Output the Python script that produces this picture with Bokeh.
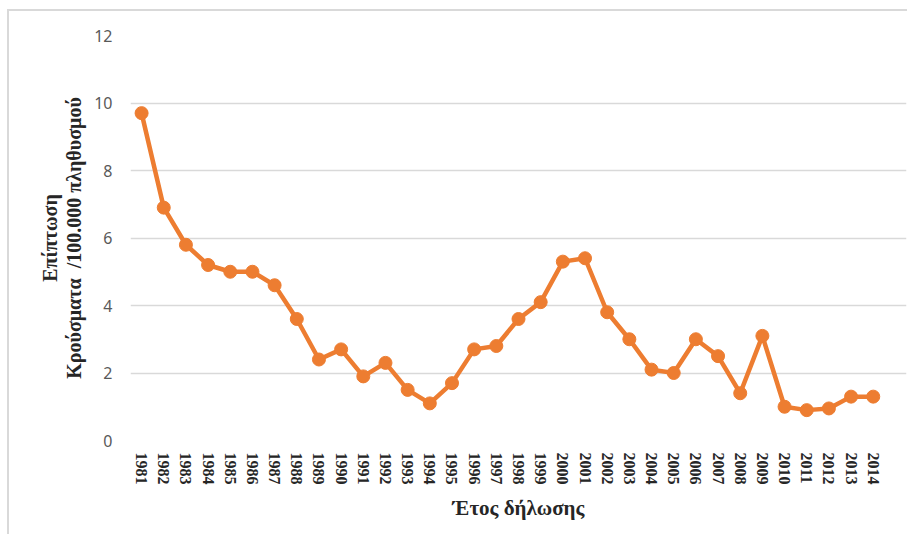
from bokeh.plotting import figure
from bokeh.models import Range1d, FixedTicker
from bokeh.embed import file_html
from bokeh.resources import INLINE

years = list(range(1981, 2015))
incidence = [9.7, 6.9, 5.8, 5.2, 5.0, 5.0, 4.6, 3.6, 2.4, 2.7, 1.9, 2.3, 1.5, 1.1,
             1.7, 2.7, 2.8, 3.6, 4.1, 5.3, 5.4, 3.8, 3.0, 2.1, 2.0, 3.0, 2.5, 1.4,
             3.1, 1.0, 0.9, 0.95, 1.3, 1.3]
y_ticks = [0, 2, 4, 6, 8, 10, 12]

p = figure(width=900, height=525, output_backend="svg", toolbar_location=None,
           x_range=Range1d(1980.5, 2015.5), y_range=Range1d(0, 12),
           min_border_left=121, min_border_right=3, min_border_top=24,
           min_border_bottom=96)
p.styles = {"border-left": "2px solid #d9d9d9", "border-top": "2px solid #d9d9d9",
            "margin-left": "7px", "margin-top": "9px"}
p.outline_line_color = None

p.line(years, incidence, line_color="#ED7D31", line_width=4.5)
p.scatter(years, incidence, size=13, fill_color="#ED7D31", line_color="#ED7D31")

p.xgrid.grid_line_color = None
p.ygrid.grid_line_color = "#d9d9d9"
p.ygrid.grid_line_width = 1.5
p.yaxis.ticker = FixedTicker(ticks=y_ticks)
p.xaxis.ticker = FixedTicker(ticks=years)

for ax in (p.xaxis, p.yaxis):
    ax.axis_line_color = None
    ax.major_tick_line_color = None
    ax.minor_tick_line_color = None
    ax.major_tick_out = 0
    ax.major_tick_in = 0

p.yaxis.major_label_text_font = "Noto Sans"
p.yaxis.major_label_text_font_size = "16px"
p.yaxis.major_label_text_color = "#595959"
p.yaxis.major_label_standoff = 18

p.xaxis.major_label_orientation = "vertical"
p.xaxis.major_label_text_font = "Liberation Serif"
p.xaxis.major_label_text_font_style = "bold"
p.xaxis.major_label_text_font_size = "16px"
p.xaxis.major_label_text_color = "#262626"
p.xaxis.major_label_standoff = 12

p.yaxis.axis_label = "Επίπτωση\nΚρούσματα\u00a0\u00a0/100.000 πληθυσμού"
p.yaxis.axis_label_text_font = "Liberation Serif"
p.yaxis.axis_label_text_font_style = "bold"
p.yaxis.axis_label_text_font_size = "20px"
p.yaxis.axis_label_text_color = "#262626"
p.yaxis.axis_label_text_line_height = 1.1
p.yaxis.axis_label_standoff = 6

p.xaxis.axis_label = "Έτος δήλωσης"
p.xaxis.axis_label_text_font = "Liberation Serif"
p.xaxis.axis_label_text_font_style = "bold"
p.xaxis.axis_label_text_font_size = "21px"
p.xaxis.axis_label_text_color = "#262626"
p.xaxis.axis_label_standoff = 8

open("out.html", "w").write(file_html(p, INLINE))
